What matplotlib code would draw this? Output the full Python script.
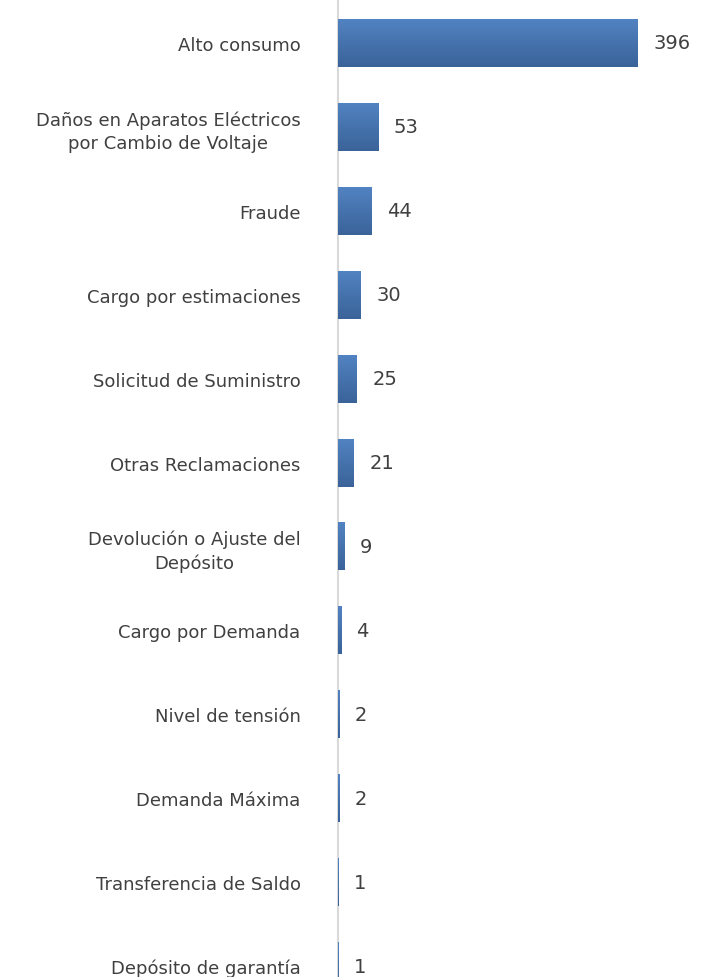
import matplotlib.pyplot as plt
import numpy as np
from matplotlib.colors import LinearSegmentedColormap

categories = ['Alto consumo',
              'Daños en Aparatos Eléctricos\npor Cambio de Voltaje',
              'Fraude',
              'Cargo por estimaciones',
              'Solicitud de Suministro',
              'Otras Reclamaciones',
              'Devolución o Ajuste del\nDepósito',
              'Cargo por Demanda',
              'Nivel de tensión',
              'Demanda Máxima',
              'Transferencia de Saldo',
              'Depósito de garantía']
values = [396, 53, 44, 30, 25, 21, 9, 4, 2, 2, 1, 1]

plt.rcParams['font.family'] = ['DejaVu Sans']

fig = plt.figure(figsize=(7.21, 9.78), dpi=100)
ax = fig.add_axes([338 / 721, 0, 362 / 721, 1])

pos = np.arange(len(values))
bars = ax.barh(pos, values, height=0.572, color='#4A76B0', linewidth=0, zorder=3)

# vertical gradient, lighter on top like the office style
grad = LinearSegmentedColormap.from_list('g', ['#5283C2', '#3A6399'])
g = np.linspace(0, 1, 64).reshape(-1, 1)
for b in bars:
    x0, y0 = b.get_x(), b.get_y()
    w, h = b.get_width(), b.get_height()
    im = ax.imshow(g, cmap=grad, aspect='auto', extent=[x0, x0 + w, y0 + h, y0],
                   zorder=4, interpolation='bilinear')
    im.set_clip_path(b)

ax.set_xlim(0, 396 * 362 / 300)
ax.set_ylim(11.13, -0.524)

for p, v in zip(pos, values):
    ax.annotate(str(v), (v, p), xytext=(11, 0), textcoords='offset points',
                va='center', ha='left', fontsize=14, color='#404040')

ax.set_yticks(pos)
ax.set_yticklabels(categories, fontsize=13, color='#404040', linespacing=1.35)
for lab in ax.get_yticklabels():
    lab.set_multialignment('center')
ax.tick_params(axis='y', length=0, pad=27)
ax.set_xticks([])

for s in ['top', 'right', 'bottom']:
    ax.spines[s].set_visible(False)
ax.spines['left'].set_color('#D9D9D9')
ax.spines['left'].set_linewidth(1.5)
ax.spines['left'].set_zorder(1)

fig.savefig('out.png', dpi=100)
